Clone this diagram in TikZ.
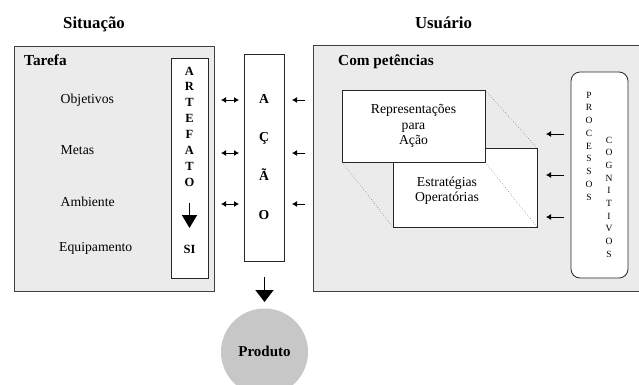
\documentclass[tikz,border=0pt]{standalone}
\usepackage{fontspec}
\setmainfont{Liberation Serif}
\usetikzlibrary{arrows.meta}
\begin{document}
\begin{tikzpicture}[x=1pt,y=-1pt,
  panel/.style={draw=black!75, line width=1pt, fill=black!8, inner sep=0pt, outer sep=0pt, anchor=north west},
  wbox/.style={draw=black!85, line width=0.8pt, fill=white, inner sep=0pt, outer sep=0pt, anchor=north west},
  dbl/.style={{Latex[length=5pt,width=6pt]}-{Latex[length=5pt,width=6pt]}, line width=1pt},
  lft/.style={-{Latex[length=5pt,width=6pt]}, line width=1pt},
  bigarrow/.style={-{Triangle[length=13pt,width=15pt]}, line width=1.6pt},
  dotline/.style={dotted, draw=black!65, line width=0.5pt},
  hdr/.style={font=\fontsize{16.8}{18}\selectfont\bfseries, anchor=base, inner sep=0pt},
  ttl/.style={font=\fontsize{15.3}{17}\selectfont\bfseries, anchor=base west, inner sep=0pt},
  txt/.style={font=\fontsize{13.7}{15.5}\selectfont, inner sep=0pt},
  artl/.style={font=\fontsize{12.5}{14}\selectfont\bfseries, anchor=base, inner sep=0pt},
  acl/.style={font=\fontsize{13.7}{15}\selectfont\bfseries, anchor=base, inner sep=0pt},
  pcl/.style={font=\fontsize{9.5}{11}\selectfont, anchor=base, inner sep=0pt}
]
\useasboundingbox (0,0) rectangle (639,384);
\clip (0,0) rectangle (639,384);

% headers
\node[hdr] (sit) at (94,28) {Situação};
\node[hdr] (usu) at (443.5,28) {Usuário};

% left panel
\node[panel, minimum width=200, minimum height=245] (tarefa) at (14,46) {};
\node[ttl] (tarefat) at (24,65) {Tarefa};
\node[txt, anchor=base west] (obj) at (60.5,103) {Objetivos};
\node[txt, anchor=base west] (met) at (60.5,154) {Metas};
\node[txt, anchor=base west] (amb) at (60.5,206) {Ambiente};
\node[txt, anchor=base west] (equ) at (59,251) {Equipamento};

% artefato column
\node[wbox, minimum width=37, minimum height=220] (art) at (171,58) {};
\foreach \l [count=\i from 0] in {A,R,T,E,F,A,T,O}
  \node[artl] (art\i) at (189.5,75+15.86*\i) {\l};
\coordinate (artA) at (189.5,203);
\coordinate (artB) at (189.5,228);
\draw[bigarrow] (artA) -- (artB);
\node[artl] (si) at (189.5,253) {SI};

% acao column
\node[wbox, minimum width=40, minimum height=207] (acao) at (244,54) {};
\node[acl] (ac1) at (264,103.5) {A};
\node[acl] (ac2) at (264,141.5) {Ç};
\node[acl] (ac3) at (264,180) {Ã};
\node[acl] (ac4) at (264,219) {O};

% double arrows and left arrows
\foreach \y [count=\i] in {100,153,204} {
  \coordinate (dA\i) at (221,\y);
  \coordinate (dB\i) at (239,\y);
  \draw[dbl] (dA\i) -- (dB\i);
  \coordinate (lA\i) at (305,\y);
  \coordinate (lB\i) at (292,\y);
  \draw[lft] (lA\i) -- (lB\i);
}

% product arrow and circle
\coordinate (pA) at (264.5,277);
\coordinate (pB) at (264.5,302);
\draw[-{Triangle[length=12pt,width=18pt]}, line width=1.6pt] (pA) -- (pB);
\node[circle, fill=black!22, minimum size=87, inner sep=0pt] (prod) at (264.5,352) {};
\node[font=\fontsize{15}{17}\selectfont\bfseries, anchor=base, inner sep=0pt] (prodt) at (264.5,356.5) {Produto};

% right panel
\node[panel, minimum width=345, minimum height=246] (usuario) at (313,45) {};
\node[ttl] (comp) at (338,65) {Com petências};

% back box (Estrategias)
\node[wbox, minimum width=144, minimum height=79] (estr) at (393,148) {};
% front box (Representacoes)
\node[wbox, minimum width=143, minimum height=72] (repr) at (342,90) {};
\draw[dotline] (repr.north east) -- (estr.north east);
\draw[dotline] (repr.south west) -- (estr.south west);
\draw[dotline] (repr.south east) -- (estr.south east);
\node[txt, anchor=base] (r1) at (413.5,113.5) {Representações};
\node[txt, anchor=base] (r2) at (413.5,129) {para};
\node[txt, anchor=base] (r3) at (413.5,144.5) {Ação};
\node[txt, anchor=base] (e1) at (447,186) {Estratégias};
\node[txt, anchor=base] (e2) at (447,201) {Operatórias};

% processos cognitivos
\node[wbox, rounded corners=9pt, minimum width=57, minimum height=206] (pc) at (571,72) {};
\foreach \l [count=\i from 0] in {P,R,O,C,E,S,S,O,S}
  \node[pcl] (pr\i) at (589,98.2+12.75*\i) {\l};
\foreach \l [count=\i from 0] in {C,O,G,N,I,T,I,V,O,S}
  \node[pcl] (cg\i) at (609,143.2+12.67*\i) {\l};
\foreach \y [count=\i] in {134,175,217} {
  \coordinate (cA\i) at (564,\y);
  \coordinate (cB\i) at (546,\y);
  \draw[lft] (cA\i) -- (cB\i);
}
\end{tikzpicture}
\end{document}
